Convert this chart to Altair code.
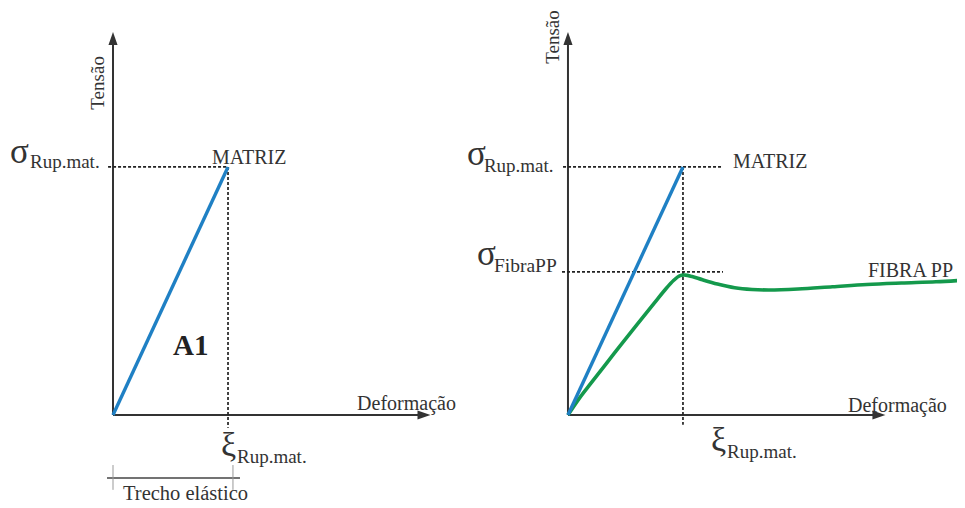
import altair as alt
import pandas as pd

# ---- Data (strain in units of xi_Rup.mat., stress in units of sigma_Rup.mat.) ----
xi_rup = 1.0
sigma_rup = 1.0
sigma_fibra = 0.577

matriz_eps = [0.0, 1.0]
matriz_sig = [0.0, 1.0]

fibra_eps = [0.0, 0.10, 0.2, 0.4, 0.6, 0.75, 0.85, 0.92, 0.97, 1.02, 1.08, 1.17, 1.3,
             1.45, 1.6, 1.75, 2.0, 2.3, 2.6, 2.9, 3.2, 3.46]
fibra_sig = [0.0, 0.068, 0.128, 0.247, 0.364, 0.451, 0.508, 0.543, 0.561, 0.564, 0.558,
             0.545, 0.528, 0.513, 0.506, 0.504, 0.508, 0.517, 0.526, 0.532, 0.537, 0.544]

# ---- Layout / style ----
FONT = "Liberation Serif"
INK = "#333333"
BLUE = "#1f80c4"
GREEN = "#14994c"
H = 492
Y_DOM = [-0.343, 1.641]
UP = "M0,-1L0.7,1L-0.7,1Z"
RIGHT = "M1,0L-1,0.7L-1,-0.7Z"


def panel(width, x_dom, texts, dashes, tension_y, extra_rules=None, fibra=False, bold=None):
    xs = alt.Scale(domain=x_dom, nice=False, zero=False)
    ys = alt.Scale(domain=Y_DOM, nice=False, zero=False)

    def X(f="x"):
        return alt.X(f"{f}:Q", scale=xs, axis=None)

    def Y(f="y"):
        return alt.Y(f"{f}:Q", scale=ys, axis=None)

    axes_df = pd.DataFrame({"x": [0, 0], "y": [0, 0], "x2": [0, 2.67], "y2": [1.512, 0]})
    axes = alt.Chart(axes_df).mark_rule(color=INK, strokeWidth=2).encode(
        x=X(), y=Y(), x2="x2:Q", y2="y2:Q")
    up = alt.Chart(pd.DataFrame({"x": [0], "y": [1.518]})).mark_point(
        shape=UP, filled=True, size=169, color=INK, opacity=1).encode(x=X(), y=Y())
    right = alt.Chart(pd.DataFrame({"x": [2.704], "y": [0]})).mark_point(
        shape=RIGHT, filled=True, size=169, color=INK, opacity=1).encode(x=X(), y=Y())

    dash_df = pd.DataFrame(dashes, columns=["x", "y", "x2", "y2"])
    dash = alt.Chart(dash_df).mark_rule(color="#222222", strokeWidth=1.7, strokeDash=[3, 2]).encode(
        x=X(), y=Y(), x2="x2:Q", y2="y2:Q")

    layers = [axes, up, right, dash]

    if fibra:
        fdf = pd.DataFrame({"x": fibra_eps, "y": fibra_sig, "i": range(len(fibra_eps))})
        layers.append(alt.Chart(fdf).mark_line(color=GREEN, strokeWidth=3.6,
                                               interpolate="catmull-rom",
                                               clip=True).encode(x=X(), y=Y(), order="i:Q"))

    mdf = pd.DataFrame({"x": matriz_eps, "y": matriz_sig, "i": [0, 1]})
    layers.append(alt.Chart(mdf).mark_line(color=BLUE, strokeWidth=3.4).encode(
        x=X(), y=Y(), order="i:Q"))

    if extra_rules:
        for rows, sw, col in extra_rules:
            rdf = pd.DataFrame(rows, columns=["x", "y", "x2", "y2"])
            layers.append(alt.Chart(rdf).mark_rule(color=col, strokeWidth=sw).encode(
                x=X(), y=Y(), x2="x2:Q", y2="y2:Q"))

    tdf = pd.DataFrame(texts, columns=["x", "y", "t", "s"])
    layers.append(alt.Chart(tdf).mark_text(align="left", baseline="alphabetic", font=FONT,
                                           color=INK).encode(
        x=X(), y=Y(), text="t:N", size=alt.Size("s:Q", scale=None, legend=None)))

    tens = pd.DataFrame({"x": [-0.130], "y": [tension_y], "t": ["Tensão"]})
    layers.append(alt.Chart(tens).mark_text(angle=270, align="center", baseline="middle",
                                            font=FONT, fontSize=19, color=INK).encode(
        x=X(), y=Y(), text="t:N"))

    if bold:
        bdf = pd.DataFrame([bold], columns=["x", "y", "t"])
        layers.append(alt.Chart(bdf).mark_text(align="left", baseline="alphabetic", font=FONT,
                                               fontSize=29, fontWeight="bold", color="#222").encode(
            x=X(), y=Y(), text="t:N"))

    return alt.layer(*layers).properties(width=width, height=H)


left_texts = [
    (-0.896, 1.016, "σ", 35),
    (-0.722, 0.996, "Rup.mat.", 19),
    (0.861, 1.012, "MATRIZ", 20),
    (2.122, 0.020, "Deformação", 20),
    (0.940, -0.165, "ξ", 34),
    (1.078, -0.194, "Rup.mat.", 19),
    (0.087, -0.343, "Trecho elástico", 20.5),
]
left_dashes = [
    (-0.043, sigma_rup, xi_rup, sigma_rup),
    (xi_rup, sigma_rup, xi_rup, -0.052),
]
left_extra = [
    ([(-0.052, -0.254, 1.104, -0.254)], 1.6, "#444444"),
    ([(0.0, -0.202, 0.0, -0.302), (1.043, -0.202, 1.043, -0.302)], 1.0, "#999999"),
]

right_texts = [
    (-0.878, 1.008, "σ", 35),
    (-0.731, 0.980, "Rup.mat.", 19),
    (1.435, 0.996, "MATRIZ", 20),
    (-0.791, 0.605, "σ", 35),
    (-0.644, 0.577, "FibraPP", 19.5),
    (2.609, 0.556, "FIBRA PP", 20),
    (2.435, 0.012, "Deformação", 20),
    (1.244, -0.145, "ξ", 34),
    (1.383, -0.173, "Rup.mat.", 19),
]
right_dashes = [
    (-0.043, sigma_rup, 1.339, sigma_rup),
    (xi_rup, sigma_rup, xi_rup, -0.040),
    (-0.052, sigma_fibra, 1.348, sigma_fibra),
]

left = panel(462, [-0.913, 3.104], left_texts, left_dashes, 1.339, extra_rules=left_extra,
             bold=(0.522, 0.242, "A1"))
right = panel(487, [-0.852, 3.383], right_texts, right_dashes, 1.524, fibra=True)

chart = alt.hconcat(left, right, spacing=0, bounds="flush").properties(
    padding=0
).configure_view(stroke=None)

chart.save("out.html", embed_options={"renderer": "svg", "actions": False})
